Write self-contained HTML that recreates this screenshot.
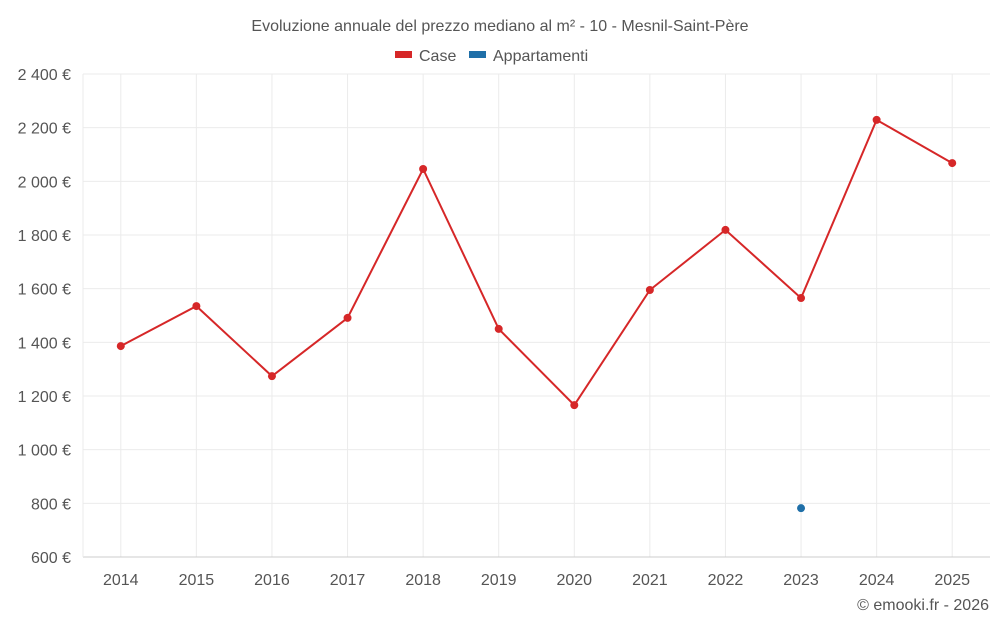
<!DOCTYPE html>
<html><head><meta charset="utf-8"><style>
body{margin:0;background:#fff;font-family:"Liberation Sans",sans-serif;}
svg{display:block}
</style></head><body>
<svg id="c" width="1000" height="625">
<text x="500" y="31" text-anchor="middle" font-size="16" fill="#555">Evoluzione annuale del prezzo mediano al m² - 10 - Mesnil-Saint-Père</text>
<g>
<g><rect x="395" y="51" width="17" height="7" fill="#d62728"/><text x="419" y="61" font-size="16" fill="#555">Case</text></g>
<g><rect x="469" y="51" width="17" height="7" fill="#1f6fa8"/><text x="493" y="61" font-size="16" fill="#555">Appartamenti</text></g>
</g>
<g id="grid"></g><g id="axes"></g><g id="marks"></g>
<text x="989" y="610" text-anchor="end" font-size="16" fill="#555">© emooki.fr - 2026</text>
</svg>
<script>
const years=[2014,2015,2016,2017,2018,2019,2020,2021,2022,2023,2024,2025];
const caseValues=[1386,1535,1274,1491,2046,1450,1166,1595,1819,1565,2229,2068];
const apptYears=[2023];
const apptValues=[782];
const yTicks=[600,800,1000,1200,1400,1600,1800,2000,2200,2400];
const L=83,R=990,T=74,B=557,ymin=600,ymax=2400;
const step=(R-L)/years.length;
const x=y=>L+step*(years.indexOf(y)+0.5);
const yv=v=>B-(v-ymin)/(ymax-ymin)*(B-T);
const ns="http://www.w3.org/2000/svg";
function mk(p,t,a){const e=document.createElementNS(ns,t);for(const k in a)e.setAttribute(k,a[k]);p.appendChild(e);return e;}
const g=document.getElementById('grid'),ax=document.getElementById('axes'),m=document.getElementById('marks');
const fmt=v=>String(v).replace(/\B(?=(\d{3})+(?!\d))/g,' ')+' €';
yTicks.forEach(v=>{
 const l=mk(g,'line',{x1:L,x2:R,y1:yv(v),y2:yv(v),stroke:'#ebebeb'});
 
 
 const t=mk(ax,'text',{x:71,y:yv(v)+6,'text-anchor':'end','font-size':16,fill:'#555'});
 t.textContent=fmt(v);
 
 
});
years.forEach(yr=>{
 const l=mk(g,'line',{x1:x(yr),x2:x(yr),y1:T,y2:B,stroke:'#ebebeb'});
 
 
 const t=mk(ax,'text',{x:x(yr),y:585,'text-anchor':'middle','font-size':16,fill:'#555'});
 t.textContent=yr;
 
 
});
const xl=mk(ax,'line',{x1:L,x2:R,y1:B,y2:B,stroke:'#ccc'});


const yl=mk(ax,'line',{x1:L,x2:L,y1:T,y2:B,stroke:'#ebebeb'});


const pts=years.map((yr,i)=>x(yr)+','+yv(caseValues[i])).join(' ');
const pl=mk(m,'polyline',{points:pts,fill:'none',stroke:'#d62728','stroke-width':2});


years.forEach((yr,i)=>{
 const c=mk(m,'circle',{cx:x(yr),cy:yv(caseValues[i]),r:4,fill:'#d62728'});
 
 
});
apptYears.forEach((yr,i)=>{
 const c=mk(m,'circle',{cx:x(yr),cy:yv(apptValues[i]),r:4,fill:'#1f6fa8'});
 
 
});
</script>
</body></html>
